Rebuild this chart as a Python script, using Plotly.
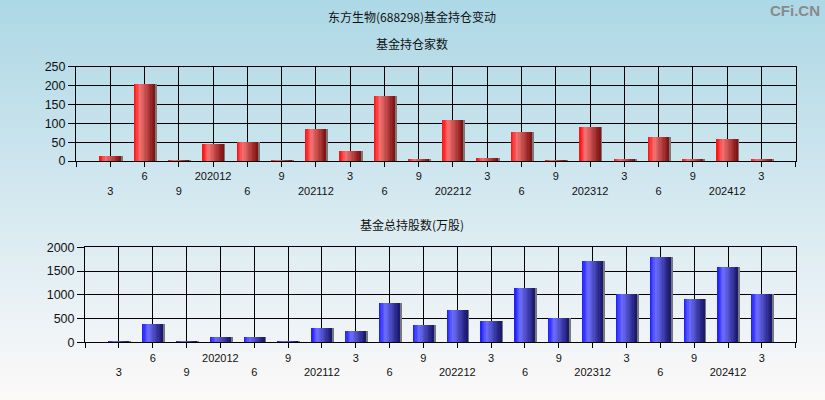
import plotly.graph_objects as go

# ---------------- data ----------------
quarters = ["3", "6", "9", "202012", "6", "9", "202112", "3", "6", "9",
            "202212", "3", "6", "9", "202312", "3", "6", "9", "202412", "3"]
fund_count = [13, 204, 3, 45, 50, 3, 85, 26, 172, 5,
              109, 8, 77, 3, 90, 5, 64, 5, 58, 5]
fund_shares = [20, 386, 20, 115, 112, 20, 302, 239, 828, 365,
               681, 449, 1144, 498, 1712, 1004, 1796, 912, 1586, 1004]

title_main = "东方生物(688298)基金持仓变动"
title_top = "基金持仓家数"
title_bottom = "基金总持股数(万股)"

W, H = 825, 400
x_idx = list(range(len(quarters)))

def lerp(stops, t):
    for i in range(len(stops) - 1):
        p0, c0 = stops[i]
        p1, c1 = stops[i + 1]
        if p0 <= t <= p1:
            f = (t - p0) / (p1 - p0) if p1 > p0 else 0
            c = [round(c0[k] + (c1[k] - c0[k]) * f) for k in range(3)]
            return "rgb(%d,%d,%d)" % tuple(c)
    c = stops[-1][1]
    return "rgb(%d,%d,%d)" % tuple(c)

red_stops = [(0.0, (255, 10, 10)), (0.3, (245, 115, 115)), (1.0, (125, 18, 18))]
blue_stops = [(0.0, (25, 25, 255)), (0.3, (110, 110, 255)), (1.0, (22, 22, 105))]

fig = go.Figure()

BW = 0.6
NS = 16
def add_bars(vals, stops, xa, ya):
    # shadow
    fig.add_trace(go.Bar(x=x_idx, y=vals, width=BW, offset=-BW / 2 + 0.06,
                         marker=dict(color="rgb(120,120,120)", line=dict(width=0)),
                         xaxis=xa, yaxis=ya, hoverinfo="skip", showlegend=False))
    for i in range(NS):
        t = (i + 0.5) / NS
        fig.add_trace(go.Bar(x=x_idx, y=vals, width=BW / NS + 0.002,
                             offset=-BW / 2 + i * BW / NS,
                             marker=dict(color=lerp(stops, t), line=dict(width=0)),
                             xaxis=xa, yaxis=ya, hoverinfo="skip", showlegend=False))

add_bars(fund_count, red_stops, "x", "y")
add_bars(fund_shares, blue_stops, "x2", "y2")

# tick labels in two staggered rows
ticktext = [""] + [("<br>" + q) if i % 2 == 0 else q for i, q in enumerate(quarters)] + [""]
tickvals = list(range(-1, len(quarters) + 1))

# background gradient
shapes = []
N = 50
top_c = (173, 216, 230)
bot_c = (252, 249, 249)
for i in range(N):
    t = i / (N - 1)
    c = tuple(round(top_c[k] + (bot_c[k] - top_c[k]) * t) for k in range(3))
    shapes.append(dict(type="rect", xref="paper", yref="paper", x0=0, x1=1,
                       y0=1 - (i + 1) / N - 0.002, y1=1 - i / N,
                       fillcolor="rgb(%d,%d,%d)" % c, line=dict(width=0), layer="below"))

xcommon = dict(range=[-1, len(quarters)], tickmode="array", tickvals=tickvals, ticktext=ticktext,
               showgrid=True, gridcolor="black", gridwidth=1, showline=True, linecolor="black",
               linewidth=1, mirror=True, ticks="outside", ticklen=5, tickcolor="black",
               zeroline=False, tickfont=dict(family="Liberation Sans, Arial", size=11, color="#111"),
               tickangle=0, fixedrange=True, automargin=False)
ycommon = dict(showgrid=True, gridcolor="black", gridwidth=1, showline=True, linecolor="black",
               linewidth=1, mirror=True, ticks="outside", ticklen=7, tickcolor="black",
               zeroline=False, tickfont=dict(family="Liberation Sans, Arial", size=12.5, color="#111"),
               fixedrange=True, automargin=False)

fig.update_layout(
    template="none",
    width=W, height=H,
    autosize=False,
    margin=dict(l=0, r=0, t=0, b=0, pad=0, autoexpand=False),
    paper_bgcolor="rgb(240,245,247)",
    plot_bgcolor="rgba(0,0,0,0)",
    barmode="overlay",
    bargap=0,
    showlegend=False,
    shapes=shapes,
    xaxis=dict(domain=[76 / W, 795.7 / W], anchor="y", **xcommon),
    yaxis=dict(domain=[1 - 161 / H, 1 - 66.7 / H], anchor="x", range=[0, 250],
               tickvals=[0, 50, 100, 150, 200, 250], **ycommon),
    xaxis2=dict(domain=[85 / W, 795.7 / W], anchor="y2", **xcommon),
    yaxis2=dict(domain=[1 - 342.3 / H, 1 - 247.3 / H], anchor="x2", range=[0, 2000],
                tickvals=[0, 500, 1000, 1500, 2000], **ycommon),
    annotations=[
        dict(text=title_main, x=412 / W, y=1 - 17 / H, xref="paper", yref="paper",
             showarrow=False, xanchor="center", yanchor="middle",
             font=dict(family="Noto Sans CJK SC", size=12, color="#111")),
        dict(text=title_top, x=412 / W, y=1 - 43 / H, xref="paper", yref="paper",
             showarrow=False, xanchor="center", yanchor="middle",
             font=dict(family="Noto Sans CJK SC", size=12, color="#111")),
        dict(text=title_bottom, x=412 / W, y=1 - 224 / H, xref="paper", yref="paper",
             showarrow=False, xanchor="center", yanchor="middle",
             font=dict(family="Noto Sans CJK SC", size=12, color="#111")),
        dict(text="<b>CFi.CN</b>", x=822 / W, y=1 - 10 / H, xref="paper", yref="paper",
             showarrow=False, xanchor="right", yanchor="middle",
             font=dict(family="Liberation Sans Narrow, Liberation Sans, Arial", size=15, color="#8a8a8a")),
    ],
)

fig.write_html("out.html", config={"displayModeBar": False, "responsive": False},
               post_script="document.body.style.margin='0';document.body.style.padding='0';"
                           "document.body.style.overflow='hidden';document.body.style.background='rgb(173,216,230)';")
